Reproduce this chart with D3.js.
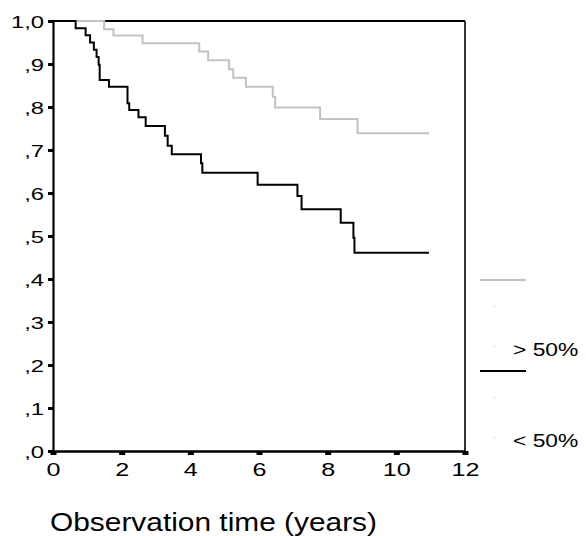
<!DOCTYPE html>
<html>
<head>
<meta charset="utf-8">
<script src="https://cdn.jsdelivr.net/npm/d3@7"></script>
<style>
  html, body { margin: 0; padding: 0; background: #fff; }
  svg text { font-family: Arial, "Liberation Sans", sans-serif; fill: #000; }
</style>
</head>
<body>
<svg id="chart" width="586" height="536"></svg>
<script>
// Kaplan-Meier survival estimates (step functions)
const highTimes = [0, 1.49, 1.76, 2.61, 4.26, 4.52, 5.13, 5.25, 5.62, 6.40, 6.47, 7.78, 8.87, 10.95];
const highSurv  = [1.0, 0.981, 0.966, 0.948, 0.929, 0.909, 0.888, 0.868, 0.847, 0.824, 0.799, 0.772, 0.739, 0.739];

const lowTimes = [0, 0.66, 0.95, 1.08, 1.19, 1.27, 1.33, 1.36, 1.63, 2.17, 2.22, 2.49, 2.70, 3.26, 3.34, 3.46, 4.31, 4.35, 5.96, 7.12, 7.24, 8.38, 8.75, 8.78, 10.95];
const lowSurv  = [1.0, 0.983, 0.967, 0.950, 0.933, 0.916, 0.898, 0.863, 0.847, 0.809, 0.793, 0.776, 0.756, 0.733, 0.710, 0.690, 0.669, 0.647, 0.619, 0.593, 0.562, 0.531, 0.496, 0.461, 0.461];

const xTicks = [0, 2, 4, 6, 8, 10, 12];
const yTicks = [0, 0.1, 0.2, 0.3, 0.4, 0.5, 0.6, 0.7, 0.8, 0.9, 1.0];
const yTickLabels = [",0", ",1", ",2", ",3", ",4", ",5", ",6", ",7", ",8", ",9", "1,0"];
const groupLabels = ["> 50%", "< 50%"];
const groupColors = ["#c2c2c2", "#000000"];

const svg = d3.select("#chart");
const x = d3.scaleLinear().domain([0, 12]).range([53, 465]);
const y = d3.scaleLinear().domain([0, 1]).range([451, 21]);

// Plot frame: top and right edges
svg.append("line").attr("x1", x(0)).attr("x2", x(12)).attr("y1", y(1)).attr("y2", y(1))
  .attr("stroke", "#000").attr("stroke-width", 2);
svg.append("line").attr("x1", x(12)).attr("x2", x(12)).attr("y1", y(1)).attr("y2", y(0))
  .attr("stroke", "#000").attr("stroke-width", 1.6);

// Survival curves
const line = d3.line().x(d => x(d[0])).y(d => y(d[1])).curve(d3.curveStepAfter);
const series = [
  d3.zip(highTimes, highSurv),
  d3.zip(lowTimes, lowSurv)
];
series.forEach((s, i) => {
  svg.append("path").datum(s).attr("d", line)
    .attr("fill", "none").attr("stroke", groupColors[i]).attr("stroke-width", 2);
});

// Y axis
const yAxis = svg.append("g").attr("transform", `translate(${x(0)},0)`)
  .call(d3.axisLeft(y).tickValues(yTicks).tickSize(0).tickFormat(""));
yAxis.select(".domain").attr("stroke", "#000").attr("stroke-width", 2.2);
yAxis.selectAll(".tick").append("rect")
  .attr("x", -5).attr("y", -1.5).attr("width", 5).attr("height", 3).attr("fill", "#000");
yAxis.selectAll(".tick").append("text")
  .attr("transform", "translate(-9,6) scale(1.4,1)")
  .attr("text-anchor", "end")
  .style("font-size", "17px")
  .text((d, i) => yTickLabels[i]);

// X axis
const xAxis = svg.append("g").attr("transform", `translate(0,${y(0)})`)
  .call(d3.axisBottom(x).tickValues(xTicks).tickSize(0).tickFormat(""));
xAxis.select(".domain").attr("stroke", "#000").attr("stroke-width", 2.4);
xAxis.selectAll(".tick").append("rect")
  .attr("x", -3).attr("y", 0).attr("width", 6).attr("height", 4).attr("fill", "#000");
xAxis.selectAll(".tick").append("text")
  .attr("transform", "translate(0,25) scale(1.4,1)")
  .attr("text-anchor", "middle")
  .style("font-size", "18px")
  .text(d => d);

// Axis title
svg.append("text")
  .attr("x", 50).attr("y", 531)
  .attr("textLength", 327).attr("lengthAdjust", "spacingAndGlyphs")
  .style("font-size", "25px")
  .text("Observation time (years)");

// Legend
const legendY = [280, 371];
groupLabels.forEach((lab, i) => {
  const ly = legendY[i];
  svg.append("line").attr("x1", 480).attr("x2", 526).attr("y1", ly).attr("y2", ly)
    .attr("stroke", groupColors[i]).attr("stroke-width", 2);
  [26, 66].forEach(dy => {
    svg.append("rect").attr("x", 493.5).attr("y", ly + dy).attr("width", 1).attr("height", 1)
      .attr("fill", "#bbb");
  });
  svg.append("text")
    .attr("transform", `translate(513,${ly + 76}) scale(1.2,1)`)
    .style("font-size", "19px")
    .text(lab);
});
</script>
</body>
</html>
